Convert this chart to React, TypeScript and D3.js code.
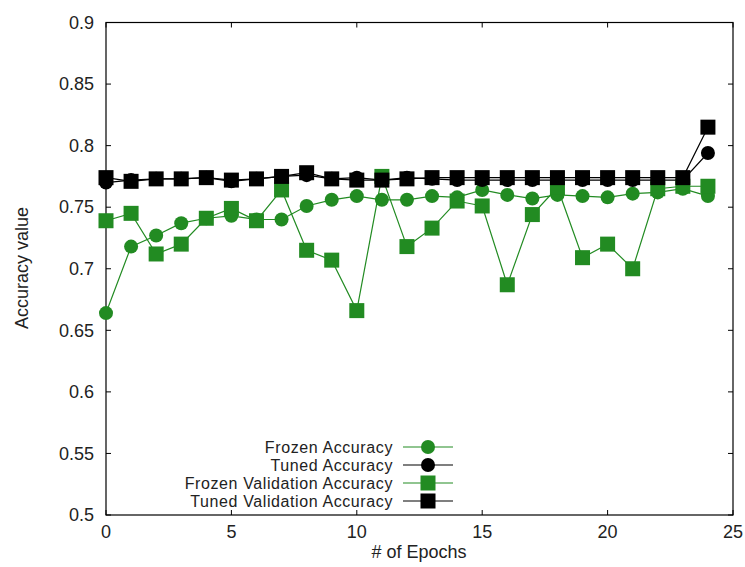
import React from "react";
import * as d3 from "d3";

const epochs = d3.range(0, 25);
const frozenAcc = [0.664, 0.718, 0.727, 0.737, 0.741, 0.743, 0.740, 0.740, 0.751, 0.756, 0.759, 0.756, 0.756, 0.759, 0.758, 0.764, 0.760, 0.757, 0.760, 0.759, 0.758, 0.761, 0.762, 0.765, 0.759];
const tunedAcc = [0.770, 0.772, 0.773, 0.773, 0.774, 0.771, 0.773, 0.775, 0.776, 0.773, 0.774, 0.772, 0.774, 0.773, 0.772, 0.772, 0.772, 0.772, 0.772, 0.772, 0.772, 0.772, 0.772, 0.772, 0.794];
const frozenVal = [0.739, 0.745, 0.712, 0.720, 0.741, 0.749, 0.739, 0.764, 0.715, 0.707, 0.666, 0.775, 0.718, 0.733, 0.755, 0.751, 0.687, 0.744, 0.766, 0.709, 0.720, 0.700, 0.765, 0.767, 0.767];
const tunedVal = [0.774, 0.771, 0.773, 0.773, 0.774, 0.772, 0.773, 0.775, 0.778, 0.773, 0.772, 0.772, 0.773, 0.774, 0.774, 0.774, 0.774, 0.774, 0.774, 0.774, 0.774, 0.774, 0.774, 0.774, 0.815];
const xTicks = [0, 5, 10, 15, 20, 25];
const yTicks = [0.5, 0.55, 0.6, 0.65, 0.7, 0.75, 0.8, 0.85, 0.9];

const series = [
  { name: "Frozen Accuracy", values: frozenAcc, color: "#228B22", shape: "circle" },
  { name: "Tuned Accuracy", values: tunedAcc, color: "#000000", shape: "circle" },
  { name: "Frozen Validation Accuracy", values: frozenVal, color: "#228B22", shape: "square" },
  { name: "Tuned Validation Accuracy", values: tunedVal, color: "#000000", shape: "square" },
];

export default function App() {
  const W = 745, H = 567;
  const L = 106, R = 733, T = 22.5, B = 515;
  const x = d3.scaleLinear().domain([0, 25]).range([L, R]);
  const y = d3.scaleLinear().domain([0.5, 0.9]).range([B, T]);
  const line = d3.line<number>().x((_, i) => x(epochs[i])).y((v) => y(v));
  const font = "Liberation Sans, Arial, sans-serif";
  const fs = 18;
  const tick = 5;
  const marker = (shape: string, cx: number, cy: number, color: string, key: any) =>
    shape === "circle" ? (
      <circle key={key} cx={cx} cy={cy} r={7} fill={color} />
    ) : (
      <rect key={key} x={cx - 7.5} y={cy - 7.5} width={15} height={15} fill={color} />
    );
  const legendX = 393;
  const legendY = [447, 465, 483, 501];
  return (
    <svg width={W} height={H} style={{ position: "absolute", left: 0, top: 0, background: "#fff" }} fontFamily={font}>
      <rect width={W} height={H} fill="#fff" />
      {yTicks.map((t) => (
        <g key={"y" + t}>
          <line x1={L} x2={L + tick} y1={y(t)} y2={y(t)} stroke="#000" />
          <line x1={R} x2={R - tick} y1={y(t)} y2={y(t)} stroke="#000" />
          <text x={L - 12} y={y(t)} dy="0.35em" textAnchor="end" fontSize={fs} fill="#222">{t}</text>
        </g>
      ))}
      {xTicks.map((t) => (
        <g key={"x" + t}>
          <line x1={x(t)} x2={x(t)} y1={B} y2={B - tick} stroke="#000" />
          <line x1={x(t)} x2={x(t)} y1={T} y2={T + tick} stroke="#000" />
          <text x={x(t)} y={B + 23} textAnchor="middle" fontSize={fs} fill="#222">{t}</text>
        </g>
      ))}
      <rect x={L} y={T} width={R - L} height={B - T} fill="none" stroke="#000" strokeWidth={1.2} />
      <text x={419} y={558} textAnchor="middle" fontSize={fs} fill="#222">{"# of Epochs"}</text>
      <text transform={`translate(28,268) rotate(-90)`} textAnchor="middle" fontSize={fs} fill="#222">Accuracy value</text>
      {series.map((s) => (
        <g key={s.name}>
          <path d={line(s.values) || ""} fill="none" stroke={s.color} strokeWidth={1.2} />
          {s.values.map((v, i) => marker(s.shape, x(epochs[i]), y(v), s.color, i))}
        </g>
      ))}
      {series.map((s, i) => (
        <g key={"lg" + s.name}>
          <text x={legendX} y={legendY[i]} dy="0.35em" textAnchor="end" fontSize={16} letterSpacing={0.6} fill="#222">{s.name}</text>
          <line x1={403} x2={453} y1={legendY[i]} y2={legendY[i]} stroke={s.color} strokeWidth={1.2} />
          {marker(s.shape, 428, legendY[i], s.color, "m")}
        </g>
      ))}
    </svg>
  );
}
